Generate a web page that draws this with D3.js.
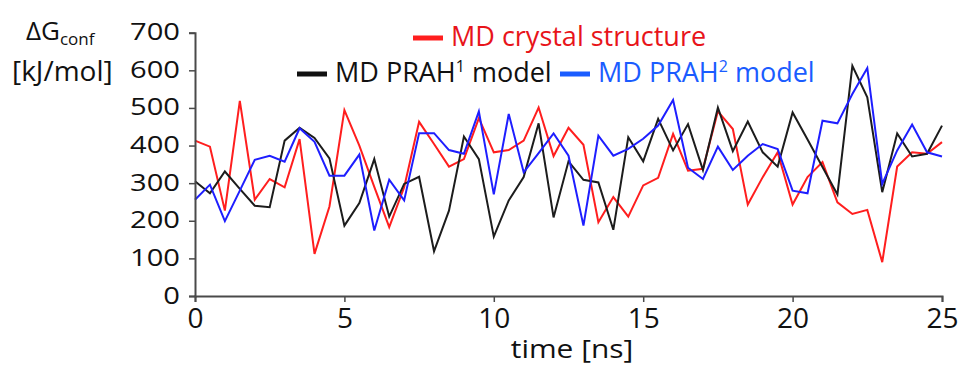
<!DOCTYPE html>
<html>
<head>
<meta charset="utf-8">
<script src="https://cdn.jsdelivr.net/npm/d3@7/dist/d3.min.js"></script>
<style>
  html, body { margin: 0; padding: 0; background: #fff; }
  svg { display: block; font-family: "Open Sans", sans-serif; }
</style>
</head>
<body>
<svg id="chart" width="960" height="365"></svg>
<script>
// Conformational free energy over simulation time (0.5 ns sampling)
const times = d3.range(0, 25.001, 0.5);

const crystal = [413, 397, 227, 519, 256, 311, 289, 417, 112, 238,
                 494, 400, 290, 183, 289, 463, 404, 344, 364, 473,
                 382, 388, 413, 501, 372, 447, 402, 196, 263, 211,
                 294, 314, 431, 333, 338, 491, 444, 243, 316, 382,
                 243, 316, 356, 249, 218, 229, 90, 344, 382, 378, 409];

const prah1 = [305, 273, 331, 285, 240, 236, 413, 447, 420, 366,
               187, 247, 364, 211, 298, 317, 119, 227, 424, 364,
               158, 254, 316, 459, 209, 358, 309, 302, 176, 422,
               358, 471, 387, 457, 335, 501, 385, 464, 382, 344,
               488, 416, 343, 270, 612, 528, 276, 432, 371, 378, 453];

const prah2 = [256, 296, 199, 280, 362, 373, 357, 446, 410, 320,
               320, 376, 174, 309, 254, 433, 433, 388, 378, 491,
               270, 484, 329, 380, 432, 373, 187, 426, 373, 391,
               418, 453, 521, 341, 311, 397, 335, 373, 404, 391,
               280, 273, 466, 459, 537, 606, 298, 387, 456, 382, 371];

const xTicks = [0, 5, 10, 15, 20, 25];
const yTicks = [0, 100, 200, 300, 400, 500, 600, 700];

const series = [
  { name: "crystal", values: crystal, color: "#ff1e1e" },
  { name: "prah1", values: prah1, color: "#1c1c1c" },
  { name: "prah2", values: prah2, color: "#1e1eff" }
];

const svg = d3.select("#chart");
const W = 960, H = 365;
const margin = { left: 195, right: 18, top: 32.7, bottom: 69 };

const x = d3.scaleLinear().domain([0, 25]).range([margin.left, W - margin.right]);
const y = d3.scaleLinear().domain([0, 700]).range([H - margin.bottom, margin.top]);

// data lines
const line = d3.line().x((d, i) => x(times[i])).y(d => y(d));
series.forEach(s => {
  svg.append("path")
    .datum(s.values)
    .attr("fill", "none")
    .attr("stroke", s.color)
    .attr("stroke-width", 2)
    .attr("d", line);
});

// axes
const axisColor = "#4a4a4a";
const xAxis = svg.append("g")
  .attr("transform", `translate(0,${y(0)})`)
  .call(d3.axisBottom(x).tickValues(xTicks).tickSize(6).tickFormat(d3.format("d")));
const yAxis = svg.append("g")
  .attr("transform", `translate(${x(0)},0)`)
  .call(d3.axisLeft(y).tickValues(yTicks).tickSize(6).tickFormat(d3.format("d")));

[xAxis, yAxis].forEach(g => {
  g.select(".domain").attr("stroke", axisColor).attr("stroke-width", 2);
  g.selectAll(".tick line").attr("stroke", axisColor).attr("stroke-width", 1.5);
  g.selectAll(".tick text").attr("fill", "#111")
    .style("font-family", "'Open Sans', sans-serif");
});
xAxis.selectAll(".tick text")
  .style("font-size", "28px")
  .attr("y", 32).attr("dy", 0);
const yStretch = 1.24;
yAxis.selectAll(".tick text")
  .style("font-size", "23.5px")
  .attr("x", -15 / yStretch)
  .attr("dy", "0.3em")
  .attr("transform", `scale(${yStretch},1)`);

// axis titles
svg.append("text")
  .attr("transform", "translate(572,358) scale(1.15,1)")
  .attr("text-anchor", "middle")
  .style("font-size", "26px")
  .attr("fill", "#111")
  .text("time [ns]");

const yt = svg.append("text")
  .attr("x", 26)
  .attr("y", 40)
  .style("font-size", "26px")
  .attr("fill", "#111");
yt.append("tspan").text("ΔG");
yt.append("tspan").attr("dy", 5).style("font-size", "17px").text("conf");

svg.append("text")
  .attr("x", 12)
  .attr("y", 81)
  .style("font-size", "28px")
  .attr("fill", "#111")
  .text("[kJ/mol]");

// legend
function legendItem(x0, base, color, textColor, parts) {
  svg.append("line")
    .attr("x1", x0).attr("x2", x0 + 30)
    .attr("y1", base - 8).attr("y2", base - 8)
    .attr("stroke", color).attr("stroke-width", 5);
  const t = svg.append("text")
    .attr("x", x0 + 38).attr("y", base)
    .style("font-size", "27px")
    .attr("fill", textColor);
  parts.forEach(p => {
    const ts = t.append("tspan").text(p.text);
    if (p.sup) ts.attr("dy", -10).style("font-size", "16px");
    if (p.after) ts.attr("dy", 10);
  });
}
legendItem(413, 46, "#ff1e1e", "#e8141a", [{ text: "MD crystal structure" }]);
legendItem(297, 82, "#111", "#111", [{ text: "MD PRAH" }, { text: "1", sup: true }, { text: " model", after: true }]);
legendItem(560, 82, "#1a5cff", "#1a5cff", [{ text: "MD PRAH" }, { text: "2", sup: true }, { text: " model", after: true }]);
</script>
</body>
</html>
